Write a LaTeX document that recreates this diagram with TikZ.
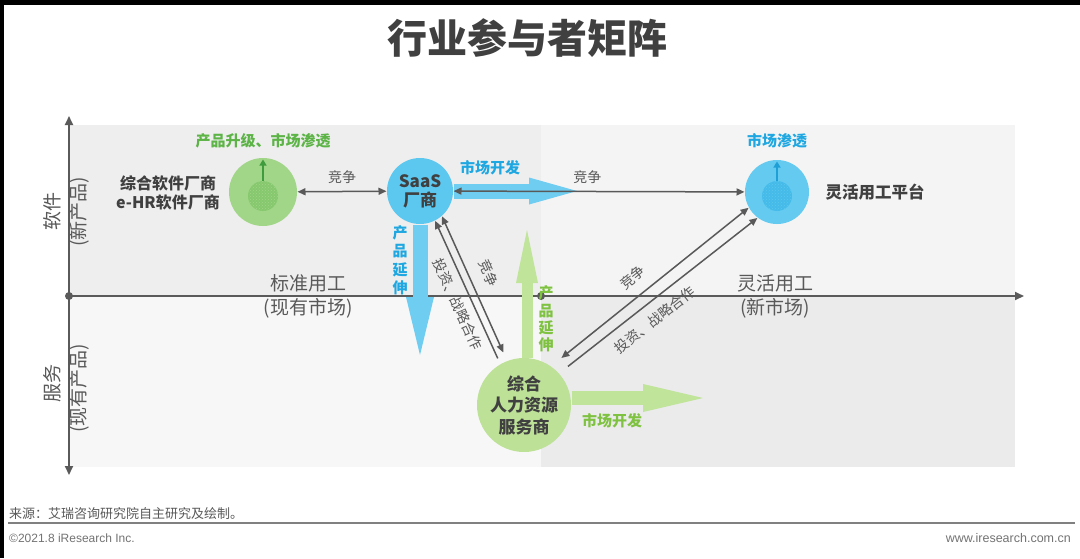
\documentclass[tikz,border=0pt]{standalone}
\usepackage{fontspec}
\setmainfont{Noto Sans CJK SC}
\newfontfamily\latfont{Liberation Sans}
\usetikzlibrary{arrows.meta,patterns}
\definecolor{dark}{HTML}{404040}
\definecolor{txtgray}{HTML}{595959}
\definecolor{axisgray}{HTML}{5A5A5A}
\definecolor{gcircle}{HTML}{A1D688}
\definecolor{ginner}{HTML}{86C86E}
\definecolor{gsmall}{HTML}{3E9B3E}
\definecolor{gtextA}{HTML}{5CB346}
\definecolor{hrfill}{HTML}{BDE197}
\definecolor{garrow}{HTML}{BFE49A}
\definecolor{gtextB}{HTML}{7FC241}
\definecolor{bcircle}{HTML}{5CC7EF}
\definecolor{binner}{HTML}{45BBEA}
\definecolor{bsmall}{HTML}{1E9FD6}
\definecolor{btext}{HTML}{1EA7E1}
\definecolor{barrow}{HTML}{6FCDF1}
\definecolor{qTL}{HTML}{EEEEEE}
\definecolor{qTR}{HTML}{F4F4F4}
\definecolor{qBL}{HTML}{F7F7F7}
\definecolor{qBR}{HTML}{EBEBEB}
\begin{document}
\begin{tikzpicture}[x=1pt,y=-1pt,
  >={Triangle[width=7pt,length=8pt]},
  axisline/.style={draw=axisgray,line width=1.8pt},
  dotnode/.style={circle,fill=axisgray,inner sep=0,minimum size=8pt},
  axlbl/.style={font=\fontsize{19}{22}\selectfont,text=txtgray,inner sep=0},
  conn/.style={draw=txtgray,line width=1.5pt},
  clbl/.style={font=\fontsize{14}{16}\selectfont,text=txtgray,inner sep=2pt},
  circ/.style={circle,inner sep=0,outer sep=0.5pt,align=center},
  inner/.style={circle,inner sep=0,minimum size=30pt},
  boldlbl/.style={font=\bfseries\fontsize{15}{18.5}\selectfont,inner sep=0,align=center},
  darklbl/.style={font=\bfseries\fontsize{16}{19}\selectfont,text=dark,inner sep=0,align=center},
  smallarrow/.style={line width=1.2pt,-{Triangle[width=7pt,length=6pt]}},
]
\useasboundingbox (0,0) rectangle (1080,558);
\fill[white] (0,0) rectangle (1080,558);
\fill[black] (0,0) rectangle (1080,5);
\fill[black] (0,0) rectangle (4,558);

% title
\node[font=\bfseries\fontsize{40}{44}\selectfont,text=dark] (title) at (527,38) {行业参与者矩阵};

% quadrants
\fill[qTL] (69,125) rectangle (541,296);
\fill[qTR] (541,125) rectangle (1015,296);
\fill[qBL] (69,296) rectangle (541,467);
\fill[qBR] (541,296) rectangle (1015,467);

% axes
\coordinate (ytop) at (69,116);
\coordinate (ybot) at (69,475);
\coordinate (xend) at (1024,296);
\node[dotnode] (o) at (69,296) {};
\node[dotnode] (m) at (541,296) {};
\draw[axisline,{Triangle[width=8pt,length=9pt]}-{Triangle[width=8pt,length=9pt]}] (ybot) -- (ytop);
\draw[axisline,-{Triangle[width=8pt,length=9pt]}] (o.center) -- (xend);

% axis labels
\node[axlbl] (std) at (308,283) {标准用工};
\node[axlbl] (stdm) at (308,308) {(现有市场)};
\node[axlbl] (flexl) at (775,283) {灵活用工};
\node[axlbl] (flexm) at (775,308) {(新市场)};
\node[axlbl,rotate=90] (sw) at (52,211) {软件};
\node[axlbl,rotate=90] (swp) at (79,212) {(新产品)};
\node[axlbl,rotate=90] (sv) at (52,383) {服务};
\node[axlbl,rotate=90] (svp) at (79,388) {(现有产品)};

% arrow tip positions
\coordinate (brtip) at (577,191);
\coordinate (bvtip) at (420,355);
\coordinate (gutip) at (527,230);
\coordinate (grtip) at (703,398);

\node[circ,minimum size=66pt] (saas) at (420,191) {};
\node[circ,minimum size=94pt] (hr) at (524,405) {};

% block arrows
\draw[draw=barrow,line width=15pt,-{Triangle[width=27pt,length=48pt,line width=0pt]}] (saas) -- (brtip);
\draw[draw=barrow,line width=15pt,-{Triangle[width=28pt,length=58pt,line width=0pt]}] (saas) -- (bvtip);
\draw[draw=garrow,line width=11pt,-{Triangle[width=22pt,length=53pt,line width=0pt]}] ([xshift=3pt]hr.north) -- (gutip);
\draw[draw=garrow,line width=14pt,-{Triangle[width=28pt,length=60pt,line width=0pt]}] ([yshift=7pt]hr.east) -- (grtip);

% circles
\node[circ,fill=gcircle,minimum size=68pt] (gcirc) at (263,192) {};
\node[inner,fill=ginner,postaction={pattern=crosshatch dots,pattern color=gcircle}] (gin) at (263,196) {};
\draw[smallarrow,draw=gsmall] (gin.north) -- ([yshift=-2pt]gcirc.north);

\node[circ,fill=bcircle,minimum size=66pt,font=\bfseries\fontsize{17}{19}\selectfont,text=dark] at (saas) {SaaS\\厂商};

\node[circ,fill=bcircle!95!white,minimum size=64pt] (flex) at (777,192) {};
\node[inner,fill=binner,postaction={pattern=crosshatch dots,pattern color=bcircle}] (fin) at (777,196) {};
\draw[smallarrow,draw=bsmall] (fin.north) -- ([yshift=-2pt]flex.north);

\node[circ,fill=hrfill,minimum size=94pt,font=\bfseries\fontsize{17}{21.5}\selectfont,text=dark] at (hr) {综合\\人力资源\\服务商};

% circle labels
\node[boldlbl,text=gtextA] (gup) at (263,141) {产品升级、市场渗透};
\node[darklbl] (glbl) at (168,193) {综合软件厂商\\e-HR软件厂商};
\node[boldlbl,text=btext] (fup) at (777,141) {市场渗透};
\node[darklbl,font=\bfseries\fontsize{16.5}{19}\selectfont] (flbl) at (875,192) {灵活用工平台};
\node[boldlbl,text=btext] (bdev) at (490,168) {市场开发};
\node[boldlbl,text=btext] (bext) at (400,260) {产\\品\\延\\伸};
\node[boldlbl,text=gtextB,font=\bfseries\fontsize{15}{17.3}\selectfont] (gext) at (546,319) {产\\品\\延\\伸};
\node[boldlbl,text=gtextB] (gdev) at (612,421) {市场开发};

% connectors
\draw[conn,<->] (gcirc) -- node[clbl,above=5pt] {竞争} (saas);
\draw[conn,<->] (saas) -- node[clbl,above=5pt,pos=0.46] {竞争} (flex);
\draw[conn,->,shorten <=6pt] (hr.120) -- node[clbl,sloped,below=5pt,pos=0.46] {投资、战略合作} (saas.-63);
\draw[conn,<->,shorten >=9pt] (saas.-49) -- node[clbl,sloped,above=10pt,pos=0.45] {竞争} (hr.111);
\draw[conn,<->,shorten <=13pt] (hr.55) -- node[clbl,sloped,above=9pt,pos=0.47] {竞争} (flex.209);
\draw[conn,->,shorten <=11pt] (hr.42) -- node[clbl,sloped,below=8pt,pos=0.43] {投资、战略合作} (flex.233);

% footer
\node[anchor=west,inner sep=0,font=\fontsize{13}{15}\selectfont,text=txtgray] (src) at (9,514) {来源：艾瑞咨询研究院自主研究及绘制。};
\draw[draw=black!50,line width=1.5pt] (8,523) -- (1075,523);
\node[anchor=west,inner sep=0,font=\latfont\fontsize{12}{14}\selectfont,text=black!55] (copy) at (9,538) {©2021.8 iResearch Inc.};
\node[anchor=east,inner sep=0,font=\latfont\fontsize{12.5}{14}\selectfont,text=black!55] (web) at (1071,538) {www.iresearch.com.cn};
\end{tikzpicture}
\end{document}
